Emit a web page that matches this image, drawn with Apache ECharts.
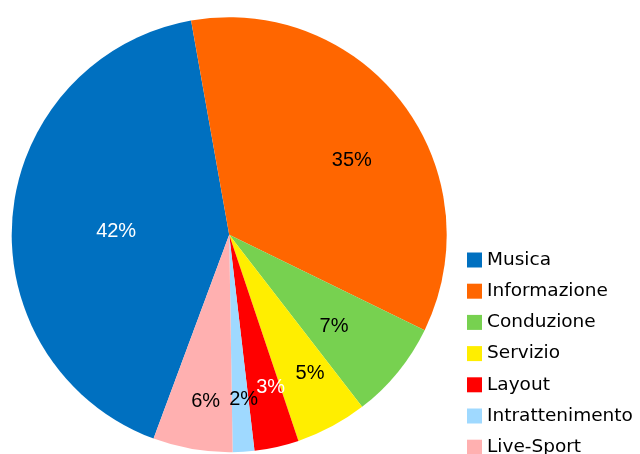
<!DOCTYPE html>
<html>
<head>
<meta charset="utf-8">
<script src="https://cdn.jsdelivr.net/npm/echarts@6/dist/echarts.min.js"></script>
<style>
  html, body { margin: 0; padding: 0; background: #ffffff; }
  #chart { width: 640px; height: 454px; }
</style>
</head>
<body>
<div id="chart"></div>
<script>
// Categories and their shares (percent)
const categories = ['Musica', 'Informazione', 'Conduzione', 'Servizio', 'Layout', 'Intrattenimento', 'Live-Sport'];
const shares = [41.5, 35.0, 7.3, 5.3, 3.3, 1.6, 5.9];

// Styling
const sliceColors = ['#0070c0', '#ff6600', '#77d150', '#ffee00', '#ff0000', '#9fd9ff', '#ffb0b0'];
const labelColors = ['#ffffff', '#000000', '#000000', '#000000', '#ffffff', '#000000', '#000000'];
// placement of each percentage label: distance from the centre (fraction of radius)
// and a small angular nudge (degrees, clockwise) away from the slice bisector
const labelRadius = [0.52, 0.66, 0.64, 0.74, 0.73, 0.76, 0.775];
const labelTurn = [-3.6, 5.7, 2.0, -2.0, -2.5, -1.2, -1.7];

const CX = 229.2, CY = 234.7, R = 217.5;

const chart = echarts.init(document.getElementById('chart'), null, { renderer: 'canvas' });

chart.setOption({
  backgroundColor: '#ffffff',
  animation: false,
  legend: {
    orient: 'vertical',
    left: 467,
    top: 250.5,
    height: 230,
    padding: 0,
    itemWidth: 15,
    itemHeight: 15,
    itemGap: 12.2,
    icon: 'rect',
    selectedMode: false,
    textStyle: { fontFamily: 'DejaVu Sans', fontSize: 18.5, color: '#000000' },
    data: categories
  },
  series: [{
    type: 'pie',
    center: [CX, CY],
    radius: R,
    startAngle: 249.65,
    clockwise: true,
    avoidLabelOverlap: false,
    itemStyle: { borderWidth: 0 },
    emphasis: { disabled: true },
    label: {
      show: true,
      position: 'inside',
      fontFamily: 'Liberation Sans',
      fontSize: 20,
      formatter: p => Math.round(p.percent) + '%'
    },
    labelLine: { show: false },
    labelLayout: function (p) {
      const r = p.labelRect;
      const lx = r.x + r.width / 2 - CX;
      const ly = r.y + r.height / 2 - CY;
      // screen angle of the bisector, then turned clockwise by the nudge
      const a = Math.atan2(ly, lx) + labelTurn[p.dataIndex] * Math.PI / 180;
      const t = labelRadius[p.dataIndex] * R;
      return { x: CX + Math.cos(a) * t, y: CY + Math.sin(a) * t, align: 'center', verticalAlign: 'middle' };
    },
    data: categories.map((name, i) => ({
      name: name,
      value: shares[i],
      itemStyle: { color: sliceColors[i] },
      label: { color: labelColors[i] }
    }))
  }]
});
</script>
</body>
</html>
